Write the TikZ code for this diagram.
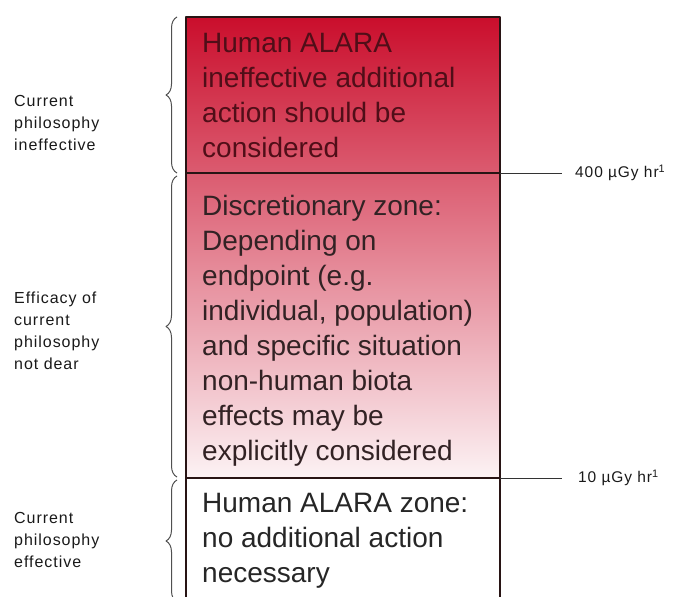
\documentclass[tikz,border=0pt]{standalone}
\usepackage{fontspec}
\setmainfont{Liberation Sans}
\newfontfamily\smallfont[LetterSpace=6]{Liberation Sans}
\usetikzlibrary{decorations.pathreplacing,positioning}
\definecolor{alarared}{RGB}{202,14,44}
\definecolor{alarapale}{RGB}{252,242,244}
\definecolor{zoneline}{RGB}{40,20,20}
\definecolor{bracegray}{RGB}{80,80,80}
\begin{document}
\begin{tikzpicture}[x=1pt,y=-1pt,line join=round,
  zonetext/.style={anchor=north west,inner sep=0pt,align=left,font=\fontsize{28}{35}\selectfont},
  sidetext/.style={anchor=west,inner sep=0pt,align=left,font=\smallfont\fontsize{16}{22}\selectfont,text=black!90},
  dosetext/.style={anchor=west,inner sep=0pt,font=\smallfont\fontsize{15.5}{18}\selectfont,text=black!90},
  zonebrace/.style={decorate,decoration={brace,amplitude=11pt},draw=bracegray,line width=1pt},
  zoneedge/.style={draw=zoneline,line width=1.2pt}]
\useasboundingbox (0,0) rectangle (681,597);
% coloured column
\shade[top color=alarared,bottom color=alarapale] (186,17) rectangle (500,478);
\draw[zoneedge] (186,597)--(186,17)--(500,17)--(500,597);
\coordinate (d400) at (500,173);
\coordinate (d10) at (500,478);
\draw[zoneedge] (186,173)--(d400);
\draw[zoneedge] (186,478)--(d10);
% zone texts
\node[zonetext,text={rgb,255:red,80;green,14;blue,24}] (zonetop) at (202,33)
  {Human ALARA\\ineffective additional\\action should be\\considered};
\node[zonetext,text={rgb,255:red,50;green,34;blue,36}] (zonemid) at (202,195)
  {Discretionary zone:\\Depending on\\endpoint (e.g.\\individual, population)\\and specific situation\\non-human biota\\effects may be\\explicitly considered};
\node[zonetext,text=black!85] (zonelow) at (202,493)
  {Human ALARA zone:\\no additional action\\necessary};
% dose limits
\node[dosetext] (dose400) at (575,173) {400 µGy hr\textsuperscript{1}};
\node[dosetext] (dose10) at (578,478) {10 µGy hr\textsuperscript{1}};
\draw[line width=1pt,black!80,shorten >=13pt] (d400) -- (d400 -| dose400.west);
\draw[line width=1pt,black!80,shorten >=16pt] (d10) -- (d10 -| dose10.west);
% braces
\draw[zonebrace] (177,173) -- (177,17);
\draw[zonebrace] (177,477) -- (177,176);
\draw[zonebrace] (177,602) -- (177,480);
\node[sidetext] (philtop) at (14,123) {Current\\philosophy\\ineffective};
\node[sidetext] (philmid) at (14,331) {Efficacy of\\current\\philosophy\\not dear};
\node[sidetext] (phillow) at (14,540) {Current\\philosophy\\effective};
\end{tikzpicture}
\end{document}
